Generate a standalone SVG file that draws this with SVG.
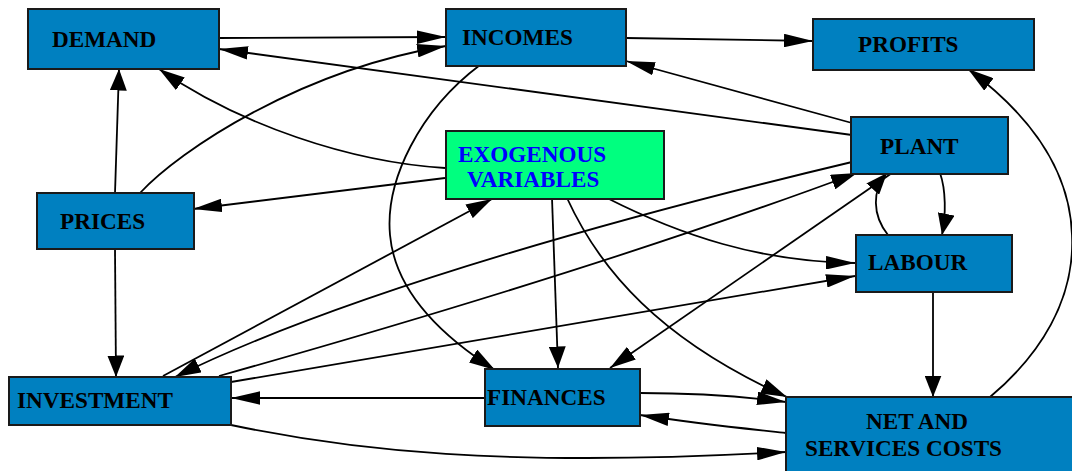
<svg xmlns="http://www.w3.org/2000/svg" width="1072" height="471" viewBox="0 0 1072 471">
<style>
.box{fill:#0080c0;stroke:#1a1a1a;stroke-width:2}
.exo{fill:#00ff7f;stroke:#1a1a1a;stroke-width:2}
.lbl{font-family:"Liberation Serif","Times New Roman",serif;font-weight:bold;font-size:23.2px;fill:#000}
.blue{fill:#0000ff}
.e{fill:none;stroke:#000;stroke-width:1.8}
.h{marker-end:url(#aH)}
.d{marker-end:url(#aD)}
.v{marker-end:url(#aV)}
</style>
<defs>
<marker id="aH" viewBox="0 0 29 13.5" refX="29" refY="6.75" markerWidth="29" markerHeight="13.5" markerUnits="userSpaceOnUse" orient="auto"><path d="M0,0 L29,6.75 L0,13.5 z" fill="#000"/></marker>
<marker id="aD" viewBox="0 0 26 15.5" refX="26" refY="7.75" markerWidth="26" markerHeight="15.5" markerUnits="userSpaceOnUse" orient="auto"><path d="M0,0 L26,7.75 L0,15.5 z" fill="#000"/></marker>
<marker id="aV" viewBox="0 0 21.5 17" refX="21.5" refY="8.5" markerWidth="21.5" markerHeight="17" markerUnits="userSpaceOnUse" orient="auto"><path d="M0,0 L21.5,8.5 L0,17 z" fill="#000"/></marker>
</defs>
<rect width="1072" height="471" fill="#fff"/>
<g id="connectors">
<path class="e h" d="M219,38 L446,37"/>
<path class="e h" d="M140,193 C180,150 300,70 446,46"/>
<path class="e h" d="M852,135 L219,49"/>
<path class="e d" d="M445,168 C350,162 240,125 159,69"/>
<path class="e v" d="M115,193 L119,69"/>
<path class="e h" d="M626,38 L813,41"/>
<path class="e h" d="M852,123 L626,61"/>
<path class="e d" d="M990,397 C1040,355 1075,300 1072,235 C1070,170 1030,115 968,69"/>
<path class="e d" d="M480,65 C420,110 385,180 390,235 C395,290 440,335 495,370"/>
<path class="e h" d="M445,178 L193,209"/>
<path class="e v" d="M115,249 L116,377"/>
<path class="e d" d="M163,376 L492,199"/>
<path class="e d" d="M852,162 C650,210 350,290 175,377"/>
<path class="e d" d="M219,376 C400,325 650,250 857,173"/>
<path class="e h" d="M231,382 L855,276"/>
<path class="e h" d="M607,198 C680,235 760,262 855,263"/>
<path class="e v" d="M552,198 L558,368"/>
<path class="e d" d="M567,198 C600,270 660,340 787,397"/>
<path class="e h" d="M640,393 C700,393 740,396 786,402"/>
<path class="e h" d="M786,433 C740,428 700,424 640,415"/>
<path class="e h" d="M485,398 L231,398"/>
<path class="e h" d="M231,425 C350,450 500,468 786,452"/>
<path class="e v" d="M933,292 L933,397"/>
<path class="e v" d="M940,173 C946,190 946,215 942,235"/>
<path class="e v" d="M888,235 C872,215 872,190 887,173"/>
<path class="e d" d="M892,173 L610,368"/>
</g>
<g id="demand"><rect class="box" x="28" y="9" width="191" height="60"/><text class="lbl" x="52" y="47">DEMAND</text></g>
<g id="incomes"><rect class="box" x="446" y="9" width="180" height="57"/><text class="lbl" x="462" y="45">INCOMES</text></g>
<g id="profits"><rect class="box" x="813" y="19" width="221" height="51"/><text class="lbl" x="858" y="52">PROFITS</text></g>
<g id="plant"><rect class="box" x="851" y="117" width="157" height="57"/><text class="lbl" x="880" y="154">PLANT</text></g>
<g id="exogenous"><rect class="exo" x="446" y="131" width="218" height="68"/><text class="lbl blue" x="458" y="162">EXOGENOUS</text><text class="lbl blue" x="467" y="187">VARIABLES</text></g>
<g id="prices"><rect class="box" x="37" y="193" width="157" height="56"/><text class="lbl" x="60" y="229">PRICES</text></g>
<g id="labour"><rect class="box" x="856" y="235" width="156" height="57"/><text class="lbl" x="868" y="270">LABOUR</text></g>
<g id="investment"><rect class="box" x="9" y="377" width="222" height="48"/><text class="lbl" x="17" y="408">INVESTMENT</text></g>
<g id="finances"><rect class="box" x="485" y="369" width="155" height="57"/><text class="lbl" x="487" y="405">FINANCES</text></g>
<g id="net"><rect class="box" x="786" y="397" width="300" height="90"/><text class="lbl" x="866" y="429">NET AND</text><text class="lbl" x="805" y="456">SERVICES COSTS</text></g>
</svg>
